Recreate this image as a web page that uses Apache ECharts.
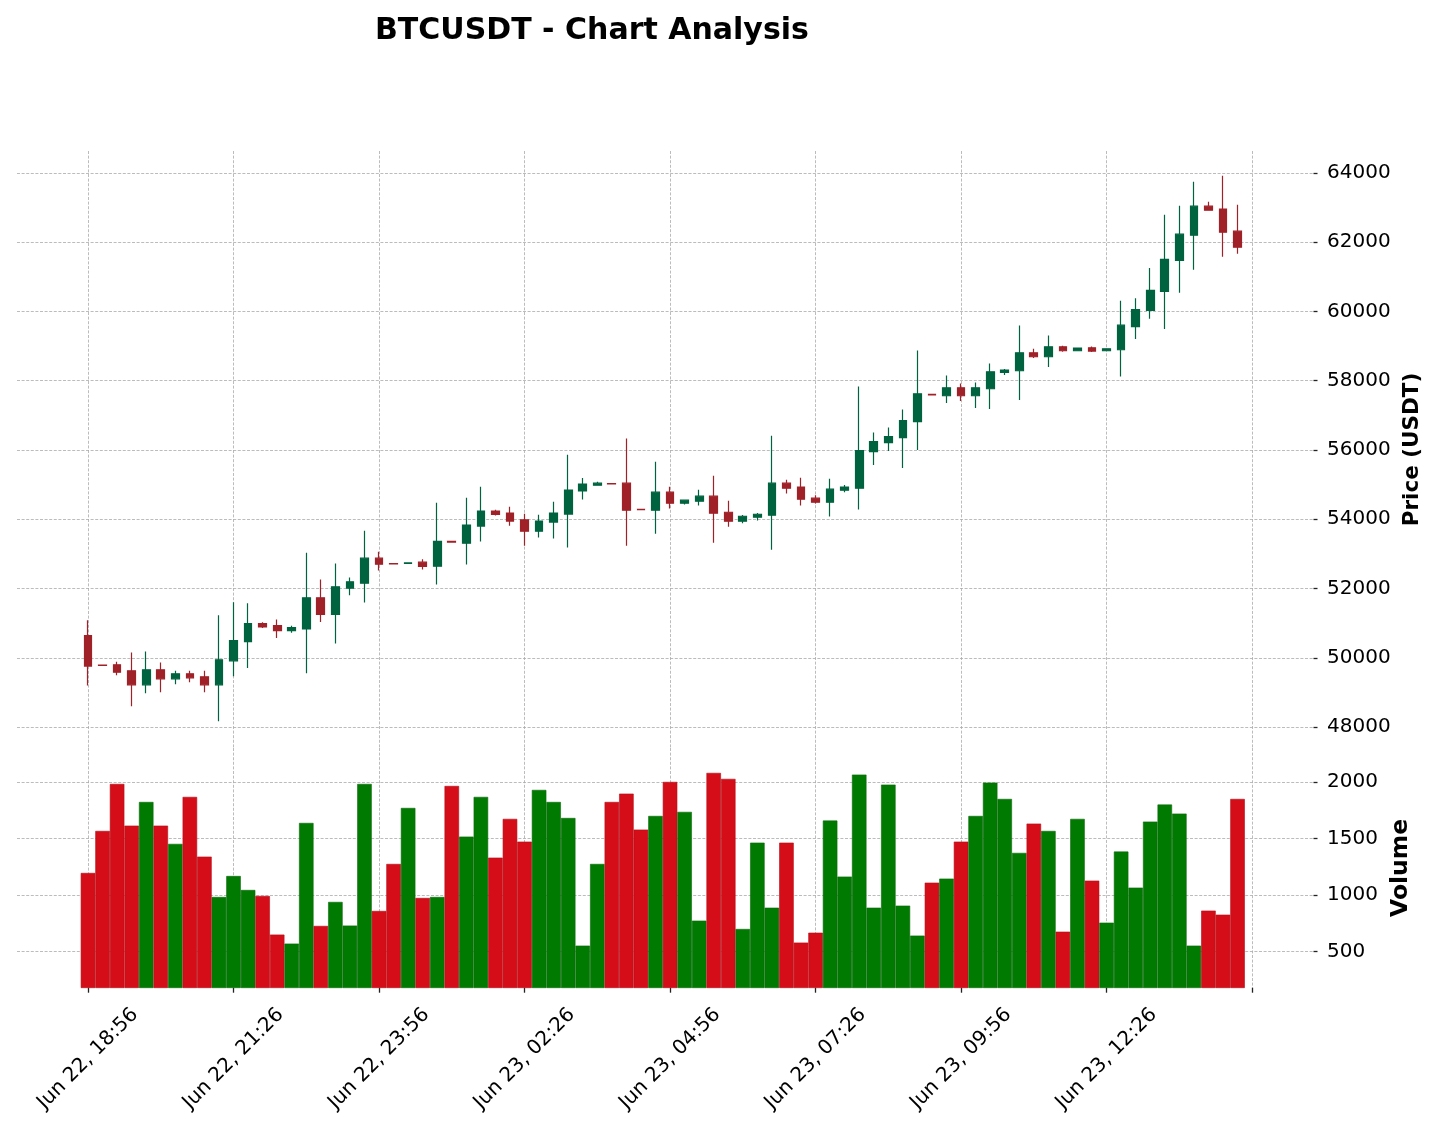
<!DOCTYPE html>
<html><head><meta charset="utf-8">
<script src="https://cdn.jsdelivr.net/npm/echarts@6/dist/echarts.min.js"></script>
<style>html,body{margin:0;padding:0;background:#fff}#c{width:1439px;height:1131px}</style>
</head><body><div id="c"></div>
<script>
const times = [
 'Jun 22, 18:56','Jun 22, 19:11','Jun 22, 19:26','Jun 22, 19:41','Jun 22, 19:56','Jun 22, 20:11','Jun 22, 20:26','Jun 22, 20:41','Jun 22, 20:56','Jun 22, 21:11',
 'Jun 22, 21:26','Jun 22, 21:41','Jun 22, 21:56','Jun 22, 22:11','Jun 22, 22:26','Jun 22, 22:41','Jun 22, 22:56','Jun 22, 23:11','Jun 22, 23:26','Jun 22, 23:41',
 'Jun 22, 23:56','Jun 23, 00:11','Jun 23, 00:26','Jun 23, 00:41','Jun 23, 00:56','Jun 23, 01:11','Jun 23, 01:26','Jun 23, 01:41','Jun 23, 01:56','Jun 23, 02:11',
 'Jun 23, 02:26','Jun 23, 02:41','Jun 23, 02:56','Jun 23, 03:11','Jun 23, 03:26','Jun 23, 03:41','Jun 23, 03:56','Jun 23, 04:11','Jun 23, 04:26','Jun 23, 04:41',
 'Jun 23, 04:56','Jun 23, 05:11','Jun 23, 05:26','Jun 23, 05:41','Jun 23, 05:56','Jun 23, 06:11','Jun 23, 06:26','Jun 23, 06:41','Jun 23, 06:56','Jun 23, 07:11',
 'Jun 23, 07:26','Jun 23, 07:41','Jun 23, 07:56','Jun 23, 08:11','Jun 23, 08:26','Jun 23, 08:41','Jun 23, 08:56','Jun 23, 09:11','Jun 23, 09:26','Jun 23, 09:41',
 'Jun 23, 09:56','Jun 23, 10:11','Jun 23, 10:26','Jun 23, 10:41','Jun 23, 10:56','Jun 23, 11:11','Jun 23, 11:26','Jun 23, 11:41','Jun 23, 11:56','Jun 23, 12:11',
 'Jun 23, 12:26','Jun 23, 12:41','Jun 23, 12:56','Jun 23, 13:11','Jun 23, 13:26','Jun 23, 13:41','Jun 23, 13:56','Jun 23, 14:11','Jun 23, 14:26','Jun 23, 14:41'
];
const open = [
 50638,49790,49797,49624,49218,49653,49392,49537,49450,49218,
 49913,50464,50986,50928,50783,50830,51730,51250,52010,52154,
 52877,52720,52725,52761,52645,53360,53310,53802,54236,54178,
 53985,53657,53918,54149,54818,54985,55030,55043,54285,54261,
 54783,54464,54522,54667,54203,53942,54058,54116,55043,54928,
 54609,54493,54841,54899,55951,56211,56355,56817,57605,57567,
 57798,57567,57769,58240,58289,58808,58693,58981,58866,58952,
 58866,58895,59565,60029,60580,61478,62203,63043,62957,62319
];
const close = [
 49759,49780,49585,49218,49653,49392,49537,49421,49218,49942,
 50493,50986,50889,50783,50870,51730,51250,52050,52195,52877,
 52703,52710,52740,52636,53359,53340,53831,54236,54139,53947,
 53657,53947,54178,54843,55016,55043,55020,54261,54275,54783,
 54464,54551,54667,54174,53942,54087,54145,55043,54899,54580,
 54493,54870,54928,55985,56240,56384,56846,57625,57590,57798,
 57567,57798,58260,58308,58808,58693,58981,58866,58943,58856,
 58924,59605,60058,60609,61507,62232,63043,62927,62290,61855
];
const low = [
 49198,49770,49498,48600,48976,49005,49237,49295,49005,48165,
 49469,49701,50860,50570,50725,49550,51034,50415,51805,51594,
 52520,52705,52720,52549,52115,53330,52693,53359,54110,53812,
 53233,53474,53445,53185,54572,54966,55015,53237,54270,53585,
 54309,54425,54396,53324,53787,53884,53961,53121,54744,54396,
 54454,54077,54783,54280,55566,55970,55480,55999,57580,57355,
 57413,57211,57182,58164,57442,58654,58394,58837,58856,58827,
 58856,58120,59208,59787,59498,60541,61208,62927,61584,61671
];
const high = [
 51082,49800,49884,50155,50184,49865,49624,49624,49624,51227,
 51604,51575,51024,51102,50928,53030,52260,52720,52320,53667,
 53060,52725,52745,52848,54477,53365,54621,54940,54275,54361,
 54159,54130,54506,55865,55194,55082,55035,56329,54290,55662,
 54937,54570,54850,55256,54531,54126,54184,56415,55140,55198,
 54696,55169,54986,57836,56509,56653,57173,58875,57615,58154,
 57923,57952,58500,58337,59597,58924,59308,59010,58953,58991,
 58935,60308,60386,61256,62792,63053,63749,63169,63923,63082
];
const volume = [
 1195,1568,1985,1615,1825,1615,1453,1870,1340,982,
 1168,1044,991,648,568,1639,725,938,728,1985,
 858,1275,1772,973,982,1967,1518,1870,1331,1675,
 1473,1932,1825,1683,550,1275,1825,1899,1580,1701,
 2003,1737,772,2083,2030,698,1464,887,1464,577,
 665,1660,1163,2068,887,1979,905,639,1109,1145,
 1473,1701,1997,1852,1373,1633,1568,674,1675,1127,
 754,1385,1065,1651,1802,1722,550,861,825,1852
];
const priceTicks = [48000,50000,52000,54000,56000,58000,60000,62000,64000];
const volumeTicks = [500,1000,1500,2000];
const labelIndex = [0,10,20,30,40,50,60,70];
const tickIndex = [0,10,20,30,40,50,60,70,80];

const UP = '#006340', DOWN = '#a02128', VUP = '#007a00', VDOWN = '#d50d18';
const FONT = 'DejaVu Sans';

const candleData = open.map((o, i) => [i, o, close[i], low[i], high[i]]);
const volData = volume.map((v, i) => ({
  value: [i, v],
  itemStyle: close[i] >= open[i]
    ? {color: VUP, borderColor: '#0b6a0b'}
    : {color: VDOWN, borderColor: '#b50d16'}
}));

const gridLine = {show: true, lineStyle: {color: '#ababab', width: 0.8, type: [3, 1.6]}};
const X_MIN = -4.88, X_MAX = 84.22;
const plain = v => String(v);

const chart = echarts.init(document.getElementById('c'), null, {renderer: 'canvas'});
chart.setOption({
  animation: false,
  backgroundColor: '#ffffff',
  title: {
    text: 'BTCUSDT - Chart Analysis',
    left: 370, top: 11,
    textStyle: {fontFamily: FONT, fontSize: 30, fontWeight: 'bold', color: '#000'}
  },
  grid: [
    {left: 17, right: 125.5, top: 151, height: 597},
    {left: 17, right: 125.5, top: 748, height: 239.7}
  ],
  xAxis: [
    {
      type: 'value', gridIndex: 0, min: X_MIN, max: X_MAX,
      axisLine: {show: false, onZero: false},
      axisTick: {show: false, customValues: tickIndex},
      axisLabel: {show: false, customValues: labelIndex},
      splitLine: gridLine
    },
    {
      type: 'value', gridIndex: 1, min: X_MIN, max: X_MAX,
      axisLine: {show: false, onZero: false},
      axisTick: {show: true, customValues: tickIndex, length: 5, lineStyle: {color: '#222', width: 1.3}},
      axisLabel: {
        show: true, customValues: labelIndex,
        formatter: v => times[Math.round(v)] || '',
        rotate: 45, align: 'center', verticalAlign: 'middle', margin: 71,
        fontFamily: FONT, fontSize: 20, color: '#000'
      },
      splitLine: gridLine
    }
  ],
  yAxis: [
    {
      type: 'value', gridIndex: 0, position: 'right', min: 47394, max: 64635,
      axisLine: {show: false, onZero: false},
      axisTick: {show: true, customValues: priceTicks, length: 4, lineStyle: {color: '#222', width: 1.3}},
      axisLabel: {show: true, customValues: priceTicks, formatter: plain, margin: 13.5, fontFamily: FONT, fontSize: 20, color: '#000'},
      splitLine: gridLine,
      name: 'Price (USDT)', nameLocation: 'middle', nameRotate: 90, nameGap: 87.5,
      nameTextStyle: {fontFamily: FONT, fontSize: 21.5, fontWeight: 'bold', color: '#000'}
    },
    {
      type: 'value', gridIndex: 1, position: 'right', min: 177, max: 2304,
      axisLine: {show: false, onZero: false},
      axisTick: {show: true, customValues: volumeTicks, length: 4, lineStyle: {color: '#222', width: 1.3}},
      axisLabel: {show: true, customValues: volumeTicks, formatter: plain, margin: 13.5, fontFamily: FONT, fontSize: 20, color: '#000'},
      splitLine: gridLine,
      name: 'Volume', nameLocation: 'middle', nameRotate: 90, nameGap: 65.5,
      nameTextStyle: {fontFamily: FONT, fontSize: 23.5, fontWeight: 'bold', color: '#000'}
    }
  ],
  series: [
    {
      type: 'candlestick', xAxisIndex: 0, yAxisIndex: 0,
      data: candleData,
      encode: {x: 0, y: [1, 2, 3, 4]},
      barWidth: 8.2,
      itemStyle: {color: UP, color0: DOWN, borderColor: UP, borderColor0: DOWN, borderWidth: 1.2}
    },
    {
      type: 'bar', xAxisIndex: 1, yAxisIndex: 1,
      data: volData,
      barWidth: 14.5,
      clip: true,
      itemStyle: {borderWidth: 0.6}
    }
  ]
});
</script>
</body></html>
